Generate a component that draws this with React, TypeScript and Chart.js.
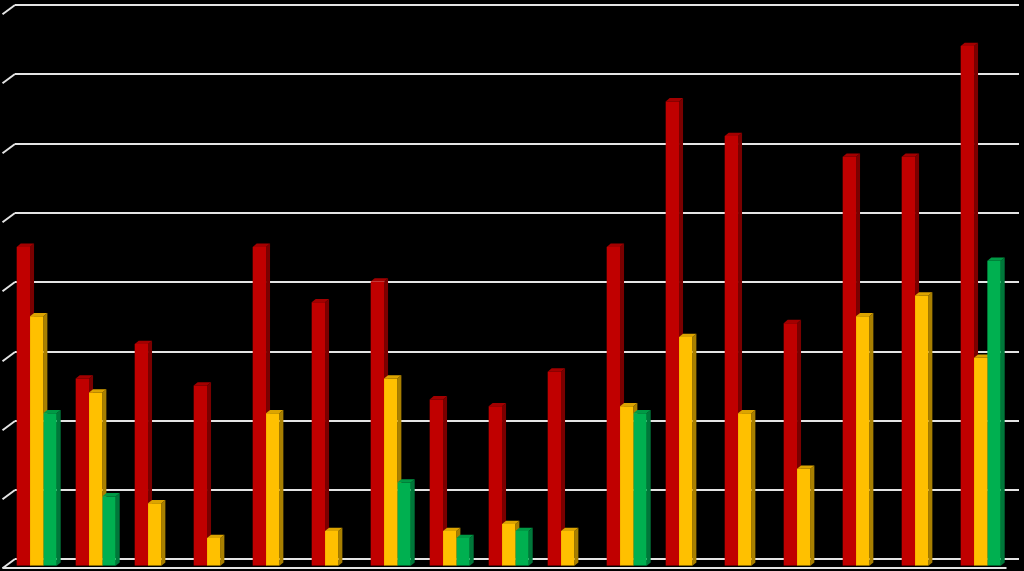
import React, { useEffect, useRef } from "react";
import { Chart, registerables } from "chart.js";

Chart.register(...registerables);

// Seventeen groups, three series each (null = no bar in that slot)
const categories = [
  "1", "2", "3", "4", "5", "6", "7", "8", "9",
  "10", "11", "12", "13", "14", "15", "16", "17",
];
const redValues = [4.6, 2.7, 3.2, 2.6, 4.6, 3.8, 4.1, 2.4, 2.3, 2.8, 4.6, 6.7, 6.2, 3.5, 5.9, 5.9, 7.5];
const yellowValues = [3.6, 2.5, 0.9, 0.4, 2.2, 0.5, 2.7, 0.5, 0.6, 0.5, 2.3, 3.3, 2.2, 1.4, 3.6, 3.9, 3.0];
const greenValues = [2.2, 1.0, null, null, null, null, 1.2, 0.4, 0.5, null, 2.2, null, null, null, null, null, 4.4];

const Y_MIN = 0;
const Y_MAX = 8;
const Y_STEP = 1;

// front / top / side shades for the pseudo-3D columns
const SHADES = [
  { front: "#C00000", top: "#A30000", side: "#7A0000" },
  { front: "#FFC000", top: "#DCA400", side: "#A87F00" },
  { front: "#00B050", top: "#009A45", side: "#00773A" },
];

// column depth and back-wall offsets, in pixels
const BAR_DX = 4;
const BAR_DY = 3.3;
const WALL_DY = 6.3;
const WALL_LEFT = 15;
const WALL_RIGHT = 1019;
const FLOOR_DX = 12.5;
const FLOOR_DY = 9.3;
const GRID_COLOR = "#e4e4e4";

const depthPlugin = {
  id: "depth3d",
  beforeDraw(chart: any) {
    const { ctx, width, height } = chart;
    ctx.save();
    ctx.fillStyle = "#000";
    ctx.fillRect(0, 0, width, height);
    ctx.restore();
  },
  beforeDatasetsDraw(chart: any) {
    const ctx = chart.ctx;
    const yScale = chart.scales.y;
    ctx.save();
    ctx.strokeStyle = GRID_COLOR;
    ctx.lineWidth = 2;
    ctx.lineCap = "butt";
    // back-wall gridlines with their short floor-side diagonals
    for (let v = Y_MIN; v <= Y_MAX + 1e-9; v += Y_STEP) {
      const yb = Math.round(yScale.getPixelForValue(v) - WALL_DY);
      ctx.beginPath();
      ctx.moveTo(WALL_LEFT, yb);
      ctx.lineTo(WALL_RIGHT, yb);
      ctx.stroke();
      ctx.beginPath();
      ctx.moveTo(WALL_LEFT, yb);
      ctx.lineTo(WALL_LEFT - FLOOR_DX, yb + FLOOR_DY);
      ctx.stroke();
    }
    // front edge of the floor
    const yf = Math.round(yScale.getPixelForValue(Y_MIN) - WALL_DY + FLOOR_DY) - 1;
    ctx.beginPath();
    ctx.moveTo(WALL_LEFT - FLOOR_DX, yf);
    ctx.lineTo(WALL_RIGHT - FLOOR_DX, yf);
    ctx.stroke();

    // side and top faces of each column (front faces are drawn by Chart.js)
    const nCat = chart.data.labels.length;
    for (let i = 0; i < nCat; i++) {
      chart.data.datasets.forEach((ds: any, d: number) => {
        const val = ds.data[i];
        if (val === null || val === undefined) return;
        const el = chart.getDatasetMeta(d).data[i];
        if (!el) return;
        const { x, y, base, width } = el.getProps(["x", "y", "base", "width"], true);
        const x0 = x - width / 2;
        const x1 = x + width / 2;
        const shade = SHADES[d];
        // right side
        ctx.fillStyle = shade.side;
        ctx.beginPath();
        ctx.moveTo(x1, y);
        ctx.lineTo(x1 + BAR_DX, y - BAR_DY);
        ctx.lineTo(x1 + BAR_DX, base - BAR_DY);
        ctx.lineTo(x1, base);
        ctx.closePath();
        ctx.fill();
        // top
        ctx.fillStyle = shade.top;
        ctx.beginPath();
        ctx.moveTo(x0, y);
        ctx.lineTo(x0 + BAR_DX, y - BAR_DY);
        ctx.lineTo(x1 + BAR_DX, y - BAR_DY);
        ctx.lineTo(x1, y);
        ctx.closePath();
        ctx.fill();
      });
    }
    ctx.restore();
  },
};

export default function App() {
  const canvasRef = useRef<HTMLCanvasElement | null>(null);

  useEffect(() => {
    if (!canvasRef.current) return;
    const series = [redValues, yellowValues, greenValues];
    const chart = new Chart(canvasRef.current, {
      type: "bar",
      data: {
        labels: categories,
        datasets: series.map((values, d) => ({
          label: String(d + 1),
          data: values,
          backgroundColor: SHADES[d].front,
          borderWidth: 0,
          categoryPercentage: 0.678,
          barPercentage: 1,
        })),
      },
      options: {
        responsive: false,
        animation: false,
        layout: { padding: { left: 7.2, right: 13.8, top: 11.3, bottom: 5.3 } },
        plugins: {
          legend: { display: false },
          tooltip: { enabled: false },
        },
        scales: {
          x: { display: false },
          y: { display: false, min: Y_MIN, max: Y_MAX, ticks: { stepSize: Y_STEP } },
        },
      },
      plugins: [depthPlugin],
    });
    return () => chart.destroy();
  }, []);

  return (
    <div style={{ position: "fixed", left: 0, top: 0, width: 1024, height: 571, background: "#000" }}>
      <canvas ref={canvasRef} width={1024} height={571} style={{ display: "block" }} />
    </div>
  );
}
